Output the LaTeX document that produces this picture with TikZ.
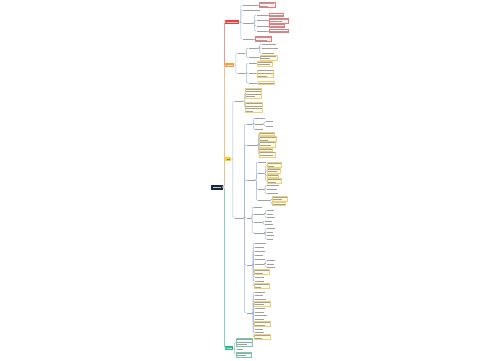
\documentclass[tikz,border=0pt]{standalone}
\usepackage{tikz}
\definecolor{rootnavy}{RGB}{27,38,64}
\definecolor{mapred}{RGB}{232,64,60}
\definecolor{maporange}{RGB}{245,160,50}
\definecolor{mapyellow}{RGB}{248,212,30}
\definecolor{mapgreen}{RGB}{40,184,140}
\definecolor{trunkred}{RGB}{240,150,150}
\definecolor{trunkorange}{RGB}{246,190,150}
\definecolor{trunkyellow}{RGB}{226,196,140}
\definecolor{trunkgreen}{RGB}{130,210,190}
\definecolor{linkblue}{RGB}{160,184,216}
\definecolor{leafedge}{RGB}{238,208,120}
\definecolor{leaffill}{RGB}{255,251,228}
\definecolor{redleafedge}{RGB}{236,120,120}
\definecolor{redleaffill}{RGB}{255,244,242}
\definecolor{greenleafedge}{RGB}{120,200,170}
\definecolor{greenleaffill}{RGB}{238,251,246}
\definecolor{textgray}{RGB}{160,160,160}
\newcommand\txtbar[1]{\rule{#1pt}{0.9pt}}

\begin{document}
\begin{tikzpicture}[
    x=1pt, y=-1pt,
    rootbox/.style={rectangle, fill=rootnavy, inner sep=0.8pt, minimum height=5pt, anchor=west, text=white!75!rootnavy, font=\fontsize{2}{2.6}\selectfont},
    branch/.style={rectangle, inner sep=0.8pt, minimum height=4pt, anchor=west, font=\fontsize{2}{2.6}\selectfont},
    txt/.style={inner sep=0.4pt, anchor=west, text=textgray, font=\fontsize{2}{2.6}\selectfont},
    leaf/.style={rectangle, draw=leafedge, fill=leaffill, line width=0.3pt, inner sep=0.7pt, minimum height=3.2pt, anchor=west, align=left, text=textgray, font=\fontsize{2}{2.6}\selectfont},
    redleaf/.style={leaf, draw=redleafedge, fill=redleaffill},
    greenleaf/.style={leaf, draw=greenleafedge, fill=greenleaffill},
    trunk/.style={line width=0.7pt, rounded corners=1.5pt},
    link/.style={draw=linkblue, line width=0.45pt, rounded corners=1pt}
]
    \useasboundingbox[fill=white] (0,0) rectangle (500,360);

    \node[rootbox, minimum width=12pt] (root) at (211,187) {\txtbar{8}};
    \node[branch, fill=mapred, text=white!70!mapred, minimum width=14pt] (red) at (225,22) {\txtbar{11}};
    \node[branch, fill=maporange, text=white!70!maporange, minimum width=9pt] (orange) at (225,65) {\txtbar{6}};
    \node[branch, fill=mapyellow, text=black!35!mapyellow, minimum width=6pt] (yellow) at (225,159) {\txtbar{3}};
    \node[branch, fill=mapgreen, text=white!70!mapgreen, minimum width=8pt] (green) at (225,348) {\txtbar{5}};

    \draw[trunk, draw=trunkred] (root.east) -- ++(1,0) |- (red.west);
    \draw[trunk, draw=trunkorange] (root.east) -- ++(1,0) |- (orange.west);
    \draw[trunk, draw=trunkyellow] (root.east) -- ++(1,0) |- (yellow.west);
    \draw[trunk, draw=trunkgreen] (root.east) -- ++(1,0) |- (green.west);

    % red branch
    \node[txt] (r1) at (242,5) {\txtbar{14}};
    \node[redleaf] (r1l) at (258.5,5) {\txtbar{15}\\\txtbar{9}};
    \node[txt] (r2) at (242,10) {\txtbar{17}};
    \node[txt] (r3) at (242,23) {\txtbar{10}};
    \node[txt] (r3a) at (256,15) {\txtbar{11}};
    \node[redleaf] (r3al) at (269,15) {\txtbar{13}};
    \node[txt] (r3b) at (256,20.5) {\txtbar{11}};
    \node[redleaf] (r3bl) at (269,20.5) {\txtbar{18}\\\txtbar{12}};
    \node[txt] (r3c) at (256,26) {\txtbar{11}};
    \node[redleaf] (r3cl) at (269,26) {\txtbar{14}};
    \node[txt] (r3d) at (256,31) {\txtbar{9}};
    \node[redleaf] (r3dl) at (269,31) {\txtbar{18}};
    \node[txt] (r4) at (242,39) {\txtbar{10}};
    \node[redleaf] (r4l) at (255,39) {\txtbar{15}\\\txtbar{11}};

    \draw[link] (red.east) -- ++(1.5,0) |- (r1.west);
    \draw[link] (red.east) -- ++(1.5,0) |- (r2.west);
    \draw[link] (red.east) -- ++(1.5,0) |- (r3.west);
    \draw[link] (red.east) -- ++(1.5,0) |- (r4.west);
    \draw[link] (r1.east) -- (r1l.west);
    \draw[link] (r3.east) -- ++(1.5,0) |- (r3a.west);
    \draw[link] (r3.east) -- ++(1.5,0) |- (r3b.west);
    \draw[link] (r3.east) -- ++(1.5,0) |- (r3c.west);
    \draw[link] (r3.east) -- ++(1.5,0) |- (r3d.west);
    \draw[link] (r3a.east) -- (r3al.west);
    \draw[link] (r3b.east) -- (r3bl.west);
    \draw[link] (r3c.east) -- (r3cl.west);
    \draw[link] (r3d.east) -- (r3dl.west);
    \draw[link] (r4.east) -- (r4l.west);

    % orange branch
    \node[txt] (o1) at (237,53) {\txtbar{7}};
    \node[txt] (o1a) at (248,48) {\txtbar{9}};
    \node[txt] (o1a1) at (261,44) {\txtbar{14}};
    \node[txt] (o1a2) at (261,48.5) {\txtbar{16}};
    \node[txt] (o1a3) at (261,53) {\txtbar{12}};
    \node[txt] (o1b) at (248,57.5) {\txtbar{9}};
    \node[leaf] (o1bl) at (259.5,57.5) {\txtbar{16}\\\txtbar{10}};
    \node[txt] (o2) at (237,73.5) {\txtbar{7}};
    \node[txt] (o2a) at (248,63.5) {\txtbar{7}};
    \node[leaf] (o2al) at (257,63.5) {\txtbar{14}\\\txtbar{12}};
    \node[txt] (o2b) at (248,73.5) {\txtbar{7}};
    \node[leaf] (o2bl) at (257,73.5) {\txtbar{15}\\\txtbar{15}\\\txtbar{9}};
    \node[txt] (o2c) at (248,83) {\txtbar{8}};
    \node[leaf] (o2cl) at (258,83) {\txtbar{15}};

    \draw[link] (orange.east) -- ++(1.5,0) |- (o1.west);
    \draw[link] (orange.east) -- ++(1.5,0) |- (o2.west);
    \draw[link] (o1.east) -- ++(1.5,0) |- (o1a.west);
    \draw[link] (o1.east) -- ++(1.5,0) |- (o1b.west);
    \draw[link] (o1a.east) -- ++(1.5,0) |- (o1a1.west);
    \draw[link] (o1a.east) -- ++(1.5,0) |- (o1a2.west);
    \draw[link] (o1a.east) -- ++(1.5,0) |- (o1a3.west);
    \draw[link] (o1b.east) -- (o1bl.west);
    \draw[link] (o2.east) -- ++(1.5,0) |- (o2a.west);
    \draw[link] (o2.east) -- ++(1.5,0) |- (o2b.west);
    \draw[link] (o2.east) -- ++(1.5,0) |- (o2c.west);
    \draw[link] (o2a.east) -- (o2al.west);
    \draw[link] (o2b.east) -- (o2bl.west);
    \draw[link] (o2c.east) -- (o2cl.west);

    % yellow branch
    \node[txt] (y1) at (234,101) {\txtbar{8}};
    \node[leaf] (y1a) at (245,93) {\txtbar{15}\\\txtbar{15}\\\txtbar{15}\\\txtbar{9}};
    \node[leaf] (y1b) at (245,107.5) {\txtbar{16}\\\txtbar{16}\\\txtbar{16}\\\txtbar{7}};
    \node[txt] (y2) at (234,218) {\txtbar{8}};

    \draw[link] (yellow.east) -- ++(1.5,0) |- (y1.west);
    \draw[link] (yellow.east) -- ++(1.5,0) |- (y2.west);
    \draw[link] (y1.east) -- ++(1.5,0) |- (y1a.west);
    \draw[link] (y1.east) -- ++(1.5,0) |- (y1b.west);

    \node[txt] (ya) at (246,124) {\txtbar{5}};
    \node[txt] (ya1) at (254,118) {\txtbar{10}};
    \node[txt] (ya2) at (254,124) {\txtbar{8}};
    \node[txt] (ya2a) at (265,121.5) {\txtbar{7}};
    \node[txt] (ya2b) at (265,126) {\txtbar{7}};
    \node[txt] (ya3) at (254,129.5) {\txtbar{8}};

    \node[txt] (yb) at (246,145) {\txtbar{10}};
    \node[leaf] (yb1) at (259,133.5) {\txtbar{14}};
    \node[leaf] (yb2) at (259,138.7) {\txtbar{16}\\\txtbar{8}};
    \node[leaf] (yb3) at (259,144.2) {\txtbar{15}\\\txtbar{11}};
    \node[leaf] (yb4) at (259,149.3) {\txtbar{12}};
    \node[leaf] (yb5) at (259,154.2) {\txtbar{15}\\\txtbar{13}};

    \node[txt] (yc) at (246,180) {\txtbar{8}};
    \node[txt] (yc1) at (257,162) {\txtbar{8}};
    \node[txt] (yc2) at (257,173.5) {\txtbar{6}};
    \node[leaf] (yc2a) at (267,165) {\txtbar{13}\\\txtbar{6}};
    \node[leaf] (yc2b) at (267,170.5) {\txtbar{12}\\\txtbar{9}};
    \node[leaf] (yc2c) at (267,175.8) {\txtbar{10}};
    \node[leaf] (yc2d) at (267,181) {\txtbar{13}\\\txtbar{8}};
    \node[txt] (yc3) at (257,189.5) {\txtbar{6}};
    \node[txt] (yc3a) at (266,185.5) {\txtbar{12}};
    \node[txt] (yc3b) at (266,189.5) {\txtbar{10}};
    \node[txt] (yc3c) at (266,193.5) {\txtbar{11}};
    \node[txt] (yc4) at (257,200.5) {\txtbar{12}};
    \node[leaf] (yc4a) at (272,198.5) {\txtbar{14}\\\txtbar{9}};
    \node[leaf] (yc4b) at (272,204) {\txtbar{12}};

    \node[txt] (yd) at (246,218) {\txtbar{4}};
    \node[txt] (yd1) at (253,207) {\txtbar{8}};
    \node[txt] (yd2) at (253,214) {\txtbar{10}};
    \node[txt] (yd2a) at (266,210.5) {\txtbar{7}};
    \node[txt] (yd2b) at (266,214) {\txtbar{6}};
    \node[txt] (yd2c) at (266,217.5) {\txtbar{8}};
    \node[txt] (yd3) at (253,222.5) {\txtbar{8}};
    \node[txt] (yd3a) at (264,221) {\txtbar{7}};
    \node[txt] (yd3b) at (264,224.5) {\txtbar{8}};
    \node[txt] (yd4) at (253,233) {\txtbar{10}};
    \node[txt] (yd4a) at (266,228.5) {\txtbar{8}};
    \node[txt] (yd4b) at (266,232) {\txtbar{6}};
    \node[txt] (yd4c) at (266,235.5) {\txtbar{7}};
    \node[txt] (yd4d) at (266,239) {\txtbar{6}};

    \node[txt] (ye) at (246,265) {\txtbar{5}};
    \node[txt] (ye1) at (254,243) {\txtbar{11}};
    \node[txt] (ye2) at (254,247) {\txtbar{9}};
    \node[txt] (ye3) at (254,251) {\txtbar{10}};
    \node[txt] (ye4) at (254,255) {\txtbar{8}};
    \node[txt] (ye5) at (254,259) {\txtbar{10}};
    \node[txt] (ye6) at (254,264) {\txtbar{9}};
    \node[txt] (ye6a) at (266,260.5) {\txtbar{8}};
    \node[txt] (ye6b) at (266,264) {\txtbar{7}};
    \node[txt] (ye6c) at (266,267.5) {\txtbar{8}};
    \node[leaf] (ye7) at (254,272) {\txtbar{14}\\\txtbar{8}};
    \node[txt] (ye8) at (254,277) {\txtbar{9}};
    \node[txt] (ye9) at (254,281) {\txtbar{9}};
    \node[leaf] (ye10) at (254,286) {\txtbar{14}\\\txtbar{6}};

    \node[txt] (yf) at (246,313) {\txtbar{5}};
    \node[txt] (yf1) at (254,292) {\txtbar{10}};
    \node[txt] (yf2) at (254,295.5) {\txtbar{8}};
    \node[txt] (yf3) at (254,299) {\txtbar{11}};
    \node[leaf] (yf4) at (254,303.5) {\txtbar{15}\\\txtbar{9}};
    \node[txt] (yf5) at (254,308.5) {\txtbar{10}};
    \node[txt] (yf6) at (254,312) {\txtbar{9}};
    \node[txt] (yf7) at (254,315.5) {\txtbar{12}};
    \node[txt] (yf8) at (254,319) {\txtbar{9}};
    \node[leaf] (yf9) at (254,324) {\txtbar{15}\\\txtbar{10}};
    \node[txt] (yf10) at (254,329) {\txtbar{8}};
    \node[txt] (yf11) at (254,332.5) {\txtbar{9}};
    \node[leaf] (yf12) at (254,337) {\txtbar{15}\\\txtbar{7}};

    \draw[link] (y2.east) -- ++(1.5,0) |- (ya.west);
    \draw[link] (y2.east) -- ++(1.5,0) |- (yb.west);
    \draw[link] (y2.east) -- ++(1.5,0) |- (yc.west);
    \draw[link] (y2.east) -- ++(1.5,0) |- (yd.west);
    \draw[link] (y2.east) -- ++(1.5,0) |- (ye.west);
    \draw[link] (y2.east) -- ++(1.5,0) |- (yf.west);

    \draw[link] (ya.east) -- ++(1.5,0) |- (ya1.west);
    \draw[link] (ya.east) -- ++(1.5,0) |- (ya2.west);
    \draw[link] (ya.east) -- ++(1.5,0) |- (ya3.west);
    \draw[link] (ya2.east) -- ++(1,0) |- (ya2a.west);
    \draw[link] (ya2.east) -- ++(1,0) |- (ya2b.west);

    \draw[link] (yb.east) -- ++(1.2,0) |- (yb1.west);
    \draw[link] (yb.east) -- ++(1.2,0) |- (yb2.west);
    \draw[link] (yb.east) -- ++(1.2,0) |- (yb3.west);
    \draw[link] (yb.east) -- ++(1.2,0) |- (yb4.west);
    \draw[link] (yb.east) -- ++(1.2,0) |- (yb5.west);

    \draw[link] (yc.east) -- ++(1.2,0) |- (yc1.west);
    \draw[link] (yc.east) -- ++(1.2,0) |- (yc2.west);
    \draw[link] (yc.east) -- ++(1.2,0) |- (yc3.west);
    \draw[link] (yc.east) -- ++(1.2,0) |- (yc4.west);
    \draw[link] (yc2.east) -- ++(1.5,0) |- (yc2a.west);
    \draw[link] (yc2.east) -- ++(1.5,0) |- (yc2b.west);
    \draw[link] (yc2.east) -- ++(1.5,0) |- (yc2c.west);
    \draw[link] (yc2.east) -- ++(1.5,0) |- (yc2d.west);
    \draw[link] (yc3.east) -- ++(1,0) |- (yc3a.west);
    \draw[link] (yc3.east) -- ++(1,0) |- (yc3b.west);
    \draw[link] (yc3.east) -- ++(1,0) |- (yc3c.west);
    \draw[link] (yc4.east) -- ++(1,0) |- (yc4a.west);
    \draw[link] (yc4.east) -- ++(1,0) |- (yc4b.west);

    \draw[link] (yd.east) -- ++(1,0) |- (yd1.west);
    \draw[link] (yd.east) -- ++(1,0) |- (yd2.west);
    \draw[link] (yd.east) -- ++(1,0) |- (yd3.west);
    \draw[link] (yd.east) -- ++(1,0) |- (yd4.west);
    \draw[link] (yd2.east) -- ++(1,0) |- (yd2a.west);
    \draw[link] (yd2.east) -- ++(1,0) |- (yd2b.west);
    \draw[link] (yd2.east) -- ++(1,0) |- (yd2c.west);
    \draw[link] (yd3.east) -- ++(1,0) |- (yd3a.west);
    \draw[link] (yd3.east) -- ++(1,0) |- (yd3b.west);
    \draw[link] (yd4.east) -- ++(1,0) |- (yd4a.west);
    \draw[link] (yd4.east) -- ++(1,0) |- (yd4b.west);
    \draw[link] (yd4.east) -- ++(1,0) |- (yd4c.west);
    \draw[link] (yd4.east) -- ++(1,0) |- (yd4d.west);

    \draw[link] (ye.east) -- ++(1,0) |- (ye1.west);
    \draw[link] (ye.east) -- ++(1,0) |- (ye2.west);
    \draw[link] (ye.east) -- ++(1,0) |- (ye3.west);
    \draw[link] (ye.east) -- ++(1,0) |- (ye4.west);
    \draw[link] (ye.east) -- ++(1,0) |- (ye5.west);
    \draw[link] (ye.east) -- ++(1,0) |- (ye6.west);
    \draw[link] (ye.east) -- ++(1,0) |- (ye7.west);
    \draw[link] (ye.east) -- ++(1,0) |- (ye8.west);
    \draw[link] (ye.east) -- ++(1,0) |- (ye9.west);
    \draw[link] (ye.east) -- ++(1,0) |- (ye10.west);
    \draw[link] (ye6.east) -- ++(1,0) |- (ye6a.west);
    \draw[link] (ye6.east) -- ++(1,0) |- (ye6b.west);
    \draw[link] (ye6.east) -- ++(1,0) |- (ye6c.west);

    \draw[link] (yf.east) -- ++(1,0) |- (yf1.west);
    \draw[link] (yf.east) -- ++(1,0) |- (yf2.west);
    \draw[link] (yf.east) -- ++(1,0) |- (yf3.west);
    \draw[link] (yf.east) -- ++(1,0) |- (yf4.west);
    \draw[link] (yf.east) -- ++(1,0) |- (yf5.west);
    \draw[link] (yf.east) -- ++(1,0) |- (yf6.west);
    \draw[link] (yf.east) -- ++(1,0) |- (yf7.west);
    \draw[link] (yf.east) -- ++(1,0) |- (yf8.west);
    \draw[link] (yf.east) -- ++(1,0) |- (yf9.west);
    \draw[link] (yf.east) -- ++(1,0) |- (yf10.west);
    \draw[link] (yf.east) -- ++(1,0) |- (yf11.west);
    \draw[link] (yf.east) -- ++(1,0) |- (yf12.west);

    % green branch
    \node[greenleaf] (g1) at (236,342) {\txtbar{15}\\\txtbar{15}\\\txtbar{10}};
    \node[txt] (g2) at (236,349.5) {\txtbar{6}};
    \node[greenleaf] (g3) at (236,354.5) {\txtbar{14}\\\txtbar{9}};

    \draw[link, draw=trunkgreen] (green.east) -- ++(1.2,0) |- (g1.west);
    \draw[link, draw=trunkgreen] (green.east) -- ++(1.2,0) |- (g2.west);
    \draw[link, draw=trunkgreen] (green.east) -- ++(1.2,0) |- (g3.west);
\end{tikzpicture}
\end{document}
